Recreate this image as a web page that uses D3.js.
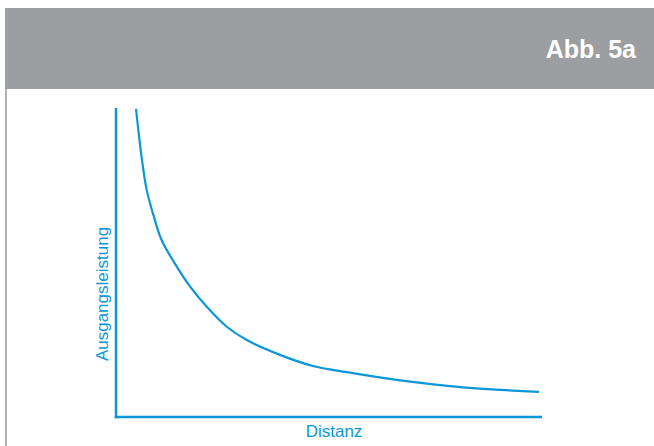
<!DOCTYPE html>
<html>
<head>
<meta charset="utf-8">
<script src="https://cdn.jsdelivr.net/npm/d3@7"></script>
<style>
  html, body { margin: 0; padding: 0; background: #ffffff; }
  svg { display: block; }
</style>
</head>
<body>
<svg id="chart" width="654" height="446"></svg>
<script>
// Data (arbitrary units)
const distanz = [4.7, 6.0, 7.2, 8.9, 10.7, 14.3, 17.4, 21.3, 26.0, 30.7, 38.5, 46.2, 54.2, 65.9, 81.5, 99.3];
const leistung = [99.7, 84.2, 73.5, 64.8, 57.3, 48.6, 42.2, 35.7, 29.2, 24.9, 20.1, 16.5, 14.5, 12.0, 9.6, 8.1];
const title = "Abb. 5a";
const xLabel = "Distanz";
const yLabel = "Ausgangsleistung";

const blue = "#0a97d9";
const svg = d3.select("#chart");

// Header band
svg.append("rect").attr("x", 5).attr("y", 8).attr("width", 649).attr("height", 81).attr("fill", "#9d9ea2");
svg.append("text").attr("x", 636).attr("y", 57.5).attr("text-anchor", "end")
  .attr("font-family", "Liberation Sans, Arial, sans-serif").attr("font-weight", "bold")
  .attr("font-size", 25).attr("fill", "#ffffff").text(title);
// Left border
svg.append("rect").attr("x", 5).attr("y", 89).attr("width", 2).attr("height", 357).attr("fill", "#b1b2b6");

const x = d3.scaleLinear().domain([0, 100]).range([116, 542]);
const y = d3.scaleLinear().domain([0, 100]).range([417, 108]);

// Axes as plain lines
const g = svg.append("g");
g.append("line").attr("x1", x(0)).attr("x2", x(0)).attr("y1", y(100)).attr("y2", y(0) + 1.25)
  .attr("stroke", blue).attr("stroke-width", 2.5);
g.append("line").attr("x1", x(0) - 1.25).attr("x2", x(100)).attr("y1", y(0)).attr("y2", y(0))
  .attr("stroke", blue).attr("stroke-width", 2.5);

const pts = distanz.map((d, i) => [d, leistung[i]]);
const line = d3.line().x(d => x(d[0])).y(d => y(d[1])).curve(d3.curveCatmullRom.alpha(0.5));
g.append("path").datum(pts).attr("d", line).attr("fill", "none")
  .attr("stroke", blue).attr("stroke-width", 2.2);

g.append("text").attr("x", 334).attr("y", 437).attr("text-anchor", "middle")
  .attr("font-family", "Liberation Sans, Arial, sans-serif").attr("font-size", 17)
  .attr("fill", blue).text(xLabel);
g.append("text").attr("transform", "translate(108,294) rotate(-90)").attr("text-anchor", "middle")
  .attr("font-family", "Liberation Sans, Arial, sans-serif").attr("font-size", 17)
  .attr("fill", blue).text(yLabel);
</script>
</body>
</html>
